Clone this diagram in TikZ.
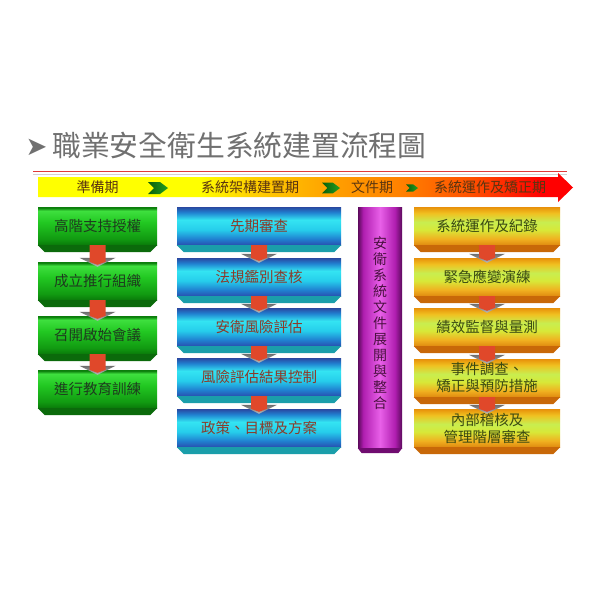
\documentclass[tikz,border=0pt]{standalone}
\usepackage{fontspec}
\newfontfamily\cjk{Noto Sans CJK TC}
\newfontfamily\symf{DejaVu Sans}
\usetikzlibrary{calc}
% colours
\definecolor{titlegray}{HTML}{707070}
\definecolor{redline}{HTML}{E03A3A}
\definecolor{hdrtext}{HTML}{5A3510}
\definecolor{chevL}{HTML}{0A5E0A}
\definecolor{chevR}{HTML}{22A022}
\definecolor{gT}{HTML}{0B7D0B}
\definecolor{gL}{HTML}{3EE03E}
\definecolor{gM}{HTML}{22C822}
\definecolor{gD}{HTML}{119A11}
\definecolor{gB}{HTML}{0A7A0A}
\definecolor{gBev}{HTML}{0B6A0B}
\definecolor{gtext}{HTML}{1E3A1E}
\definecolor{bT}{HTML}{2A48A0}
\definecolor{bU}{HTML}{2080D0}
\definecolor{bC}{HTML}{34E4F2}
\definecolor{bC2}{HTML}{26CDEB}
\definecolor{bB}{HTML}{2850B0}
\definecolor{bBev}{HTML}{1A9EAA}
\definecolor{btext}{HTML}{8B3A2A}
\definecolor{oT}{HTML}{E8900A}
\definecolor{oU}{HTML}{F0C020}
\definecolor{oC}{HTML}{C8EE50}
\definecolor{oC2}{HTML}{D8E838}
\definecolor{oD}{HTML}{F0B020}
\definecolor{oB}{HTML}{E08A10}
\definecolor{oBev}{HTML}{C86808}
\definecolor{otext}{HTML}{3B4A12}
\definecolor{pE}{HTML}{5C0A5C}
\definecolor{pM}{HTML}{B01EB0}
\definecolor{pC}{HTML}{E860E8}
\definecolor{pBev}{HTML}{700C70}
\definecolor{ptext}{HTML}{4A1040}
\definecolor{shaftred}{HTML}{E0482A}
\definecolor{hY}{HTML}{FFFF00}
\definecolor{hY2}{HTML}{FFD000}
\definecolor{hO}{HTML}{FFA000}
\definecolor{hO2}{HTML}{FF8000}
\definecolor{hR1}{HTML}{FF5000}
\definecolor{hR}{HTML}{FF0000}
% shadings
\pgfdeclareverticalshading{greenbody}{100bp}{color(0bp)=(gB); color(25bp)=(gB); color(33bp)=(gD); color(55bp)=(gM); color(70bp)=(gL); color(74bp)=(gT); color(75bp)=(gT); color(100bp)=(gT)}
\pgfdeclareverticalshading{bluebody}{100bp}{color(0bp)=(bB); color(25bp)=(bB); color(33bp)=(bU); color(45bp)=(bC2); color(58bp)=(bC); color(68bp)=(bU); color(75bp)=(bT); color(100bp)=(bT)}
\pgfdeclareverticalshading{orangebody}{100bp}{color(0bp)=(oB); color(25bp)=(oB); color(33bp)=(oD); color(45bp)=(oC2); color(55bp)=(oC); color(67bp)=(oU); color(75bp)=(oT); color(100bp)=(oT)}
\pgfdeclarehorizontalshading{purplecol}{100bp}{color(0bp)=(pE); color(25bp)=(pE); color(31bp)=(pM); color(50bp)=(pC); color(67bp)=(pM); color(75bp)=(pE); color(100bp)=(pE)}
\pgfdeclarehorizontalshading{headerbar}{100bp}{color(0bp)=(hY); color(25bp)=(hY); color(40bp)=(hY); color(45bp)=(hY2); color(52.5bp)=(hO); color(59bp)=(hO2); color(65.5bp)=(hR1); color(72bp)=(hR); color(75bp)=(hR); color(100bp)=(hR)}
% helpers
\newcommand\bevelstrip[2]{\fill[#2] (#1.south west) -- (#1.south east) -- ($(#1.south east)+(-7,7)$) -- ($(#1.south west)+(7,7)$) -- cycle;}
\newcommand\flowarrow[2]{%
  \shade[top color=gray!85!black, bottom color=gray!55] ($(#2.north)+(-18,-4)$) -- ($(#2.north)+(18,-4)$) -- ($(#2.north)+(0,5)$) -- cycle;
  \fill[shaftred] ($(#1.south)+(-8,0)$) -- ($(#1.south)+(8,0)$) -- ($(#2.north)+(8,0)$) -- ($(#2.north)+(0,3)$) -- ($(#2.north)+(-8,0)$) -- cycle;}
\newcommand\chevron[3]{%
  \begin{scope}[shift={(#1,#2)}, scale=#3]
  \shade[left color=chevL, right color=chevR] (-10,-6) -- (2,-6) -- (10,0) -- (2,6) -- (-10,6) -- (-4,0) -- cycle;
  \end{scope}}
\begin{document}
\begin{tikzpicture}[x=1pt, y=-1pt,
  box/.style={rectangle, inner sep=0pt, shade, font=\cjk\fontsize{14.5}{17}\selectfont, align=center},
  gbox/.style={box, shading=greenbody, minimum width=119pt, minimum height=38pt, text=gtext},
  bbox/.style={box, shading=bluebody, minimum width=164pt, minimum height=38pt, text=btext},
  obox/.style={box, shading=orangebody, minimum width=146pt, minimum height=38pt, text=otext},
  hdr/.style={inner sep=0pt, font=\cjk\fontsize{14}{16}\selectfont, text=hdrtext}]
\fill[white] (0,0) rectangle (600,600);
\useasboundingbox (0,0) rectangle (600,600);
% title
\node[inner sep=0pt, text=titlegray, font=\symf\fontsize{26}{30}\selectfont] (tarrow) at (36.5,147) {➤};
\node[inner sep=0pt, anchor=west, text=titlegray, font=\cjk\fontsize{28.8}{32}\selectfont] (title) at (52,146) {職業安全衛生系統建置流程圖};
% red rule
\draw[redline, line width=1.6pt] (33,171.5) -- (567,171.5);
\draw[gray!35, line width=0.6pt] (33,174.2) -- (567,174.2);
% header arrow
\shade[shading=headerbar] (38,177) -- (558,177) -- (558,173) -- (573,187.5) -- (558,202) -- (558,197) -- (38,197) -- cycle;
\chevron{158}{188}{1}
\chevron{331}{188}{0.9}
\chevron{412}{188}{0.6}
\node[hdr] (h1) at (97.5,187) {準備期};
\node[hdr] (h2) at (250,187) {系統架構建置期};
\node[hdr] (h3) at (372,187) {文件期};
\node[hdr] (h4) at (490,187) {系統運作及矯正期};
% green column
\node[gbox] (g1) at (97.5,226) {高階支持授權};
\node[gbox] (g2) at (97.5,281) {成立推行組織};
\node[gbox] (g3) at (97.5,335) {召開啟始會議};
\node[gbox] (g4) at (97.5,389) {進行教育訓練};
\foreach \n in {g1,g2,g3,g4} {\bevelstrip{\n}{gBev}}
% blue column
\node[bbox] (b1) at (259,226) {先期審查};
\node[bbox] (b2) at (259,277) {法規鑑別查核};
\node[bbox] (b3) at (259,327) {安衛風險評估};
\node[bbox] (b4) at (259,377) {風險評估結果控制};
\node[bbox] (b5) at (259,428) {政策、目標及方案};
\foreach \n in {b1,b2,b3,b4,b5} {\bevelstrip{\n}{bBev}}
% purple column
\node[rectangle, inner sep=0pt, shade, shading=purplecol, minimum width=44pt, minimum height=241pt] (d) at (380,327.5) {};
\fill[pBev] (d.south west) -- (d.south east) -- ($(d.south east)+(-4,5)$) -- ($(d.south west)+(4,5)$) -- cycle;
\node[inner sep=0pt, align=center, text=ptext, font=\cjk\fontsize{14}{16}\selectfont] (dtext) at (380,323) {安\\衛\\系\\統\\文\\件\\展\\開\\與\\整\\合};
% orange column
\node[obox] (o1) at (487,226) {系統運作及紀錄};
\node[obox] (o2) at (487,277) {緊急應變演練};
\node[obox] (o3) at (487,327) {績效監督與量測};
\node[obox] (o4) at (487,378) {事件調查、\\矯正與預防措施};
\node[obox] (o5) at (487,428) {內部稽核及\\管理階層審查};
\foreach \n in {o1,o2,o3,o4,o5} {\bevelstrip{\n}{oBev}}
% connectors
\flowarrow{g1}{g2}
\flowarrow{g2}{g3}
\flowarrow{g3}{g4}
\flowarrow{b1}{b2}
\flowarrow{b2}{b3}
\flowarrow{b3}{b4}
\flowarrow{b4}{b5}
\flowarrow{o1}{o2}
\flowarrow{o2}{o3}
\flowarrow{o3}{o4}
\flowarrow{o4}{o5}
\end{tikzpicture}
\end{document}
